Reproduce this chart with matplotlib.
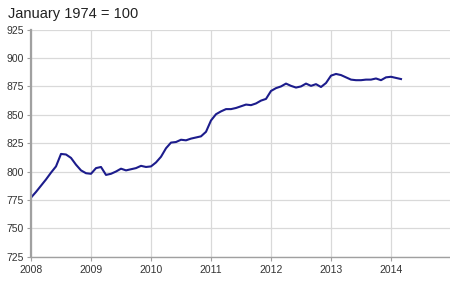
import matplotlib
matplotlib.use("Agg")
import matplotlib.pyplot as plt
import numpy as np

start_year = 2008
values = [
    777, 782, 787.5, 793, 799, 804.5, 815.5, 815, 812, 806, 801, 798.5,   # 2008
    798, 803, 804, 797, 798, 800, 802.5, 801, 802, 803, 805, 804,          # 2009
    804.5, 808, 813, 820.5, 825.5, 826, 828, 827.5, 829, 830, 831, 835,    # 2010
    845, 850.5, 853, 855, 855, 856, 857.5, 859, 858.5, 860, 862.5, 864,    # 2011
    871, 873.5, 875, 877.5, 875.5, 874, 875, 877.5, 875.5, 877, 874.5, 878,  # 2012
    884.5, 886, 885, 883, 881, 880.5, 880.5, 881, 881, 882, 880.5, 883,    # 2013
    883.5, 882.5, 881.5,                                                    # 2014
]
x_ticks = [2008, 2009, 2010, 2011, 2012, 2013, 2014]
y_ticks = [725, 750, 775, 800, 825, 850, 875, 900, 925]
title = "January 1974 = 100"

plt.rcParams['font.family'] = ['Liberation Sans', 'DejaVu Sans']

fig = plt.figure(figsize=(4.5, 2.91), dpi=100)
ax = fig.add_axes([31/450, 1-256.6/291, 420/450, (256.6-29.7)/291])

xs = start_year + np.arange(len(values)) / 12.0
ax.plot(xs, values, color='#1c1c8c', lw=1.5, solid_joinstyle='round')

ax.set_xlim(2008, 2015)
ax.set_ylim(725, 925)
ax.set_xticks(x_ticks + [2015])
ax.set_xticklabels([str(t) for t in x_ticks] + [''])
ax.set_yticks(y_ticks)
ax.set_yticklabels([str(t) for t in y_ticks])
ax.grid(True, color='#d9d9d9', lw=0.9)
ax.set_axisbelow(True)
for s in ['top', 'right']:
    ax.spines[s].set_visible(False)
ax.spines['left'].set_color('#a0a0a0')
ax.spines['left'].set_linewidth(1.6)
ax.spines['bottom'].set_color('#a0a0a0')
ax.spines['bottom'].set_linewidth(1.0)
ax.tick_params(axis='both', colors='#a0a0a0', labelcolor='#333333', labelsize=7.5, length=3, width=0.8)
ax.tick_params(axis='y', pad=2)
ax.tick_params(axis='x', pad=3)

fig.text(8/450, 1-14/291, title, fontsize=10.5, color='#222222', va='center', ha='left')

fig.savefig('out.png', dpi=100, facecolor='white')
